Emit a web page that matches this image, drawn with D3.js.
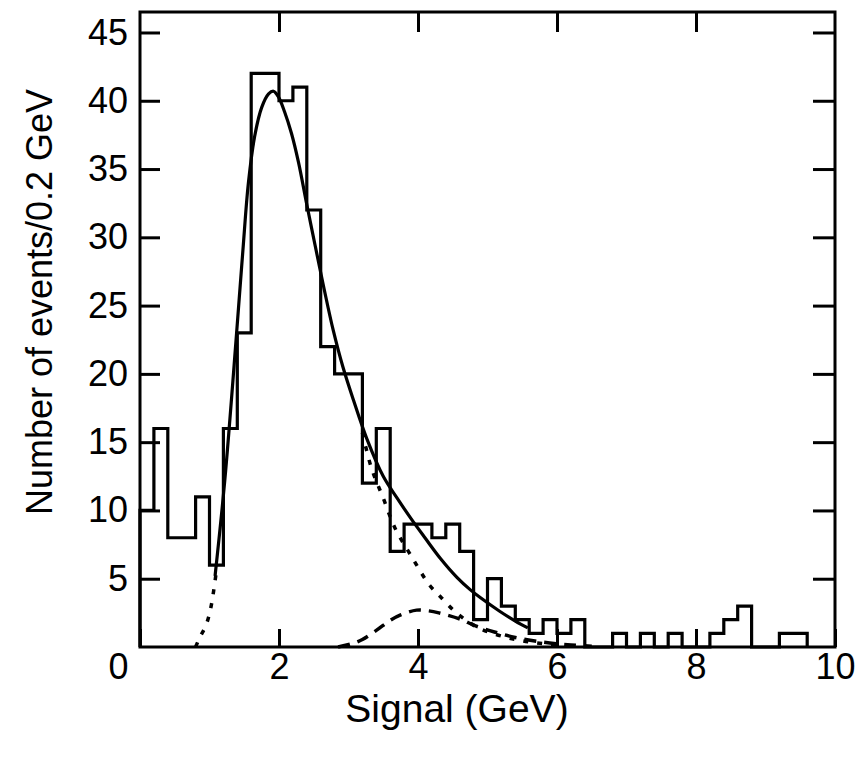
<!DOCTYPE html>
<html>
    <script src="https://d3js.org/d3.v7.min.js"></script>
    <head>
        <style>
            body { margin: 0; background: #fff; }
            text { font-family: "Liberation Sans", Arial, Helvetica, sans-serif; fill: #000; }
        </style>
    </head>
    <body>
        <svg id="hist"></svg>

        <script>
            // histogram: lower edge of each 0.2 GeV bin and its count
            const binLow = [0.0, 0.2, 0.4, 0.6, 0.8, 1.0, 1.2, 1.4, 1.6, 1.8,
                            2.0, 2.2, 2.4, 2.6, 2.8, 3.0, 3.2, 3.4, 3.6, 3.8,
                            4.0, 4.2, 4.4, 4.6, 4.8, 5.0, 5.2, 5.4, 5.6, 5.8,
                            6.0, 6.2, 6.4, 6.6, 6.8, 7.0, 7.2, 7.4, 7.6, 7.8,
                            8.0, 8.2, 8.4, 8.6, 8.8, 9.0, 9.2, 9.4];
            const counts = [10, 16, 8, 8, 11, 6, 16, 23, 42, 42,
                            40, 41, 32, 22, 20, 20, 12, 16, 7, 9,
                            9, 8, 9, 7, 2, 5, 3, 2, 1, 2,
                            1, 2, 0, 0, 1, 0, 1, 0, 1, 0,
                            0, 1, 2, 3, 0, 0, 1, 1];
            const binWidth = 0.2;

            // fit curves: [signal, events]
            const totalFit = [[1.08, 5.2], [1.22, 12.2], [1.39, 23], [1.48, 29], [1.56, 34], [1.65, 37.4],
                              [1.75, 39.5], [1.85, 40.5], [1.92, 40.7], [1.99, 40.3], [2.08, 39.2], [2.18, 37.6],
                              [2.28, 35.5], [2.4, 32.4], [2.52, 29.4], [2.65, 26.2], [2.78, 23.2], [2.92, 20.5],
                              [3.07, 18.1], [3.26, 15.3], [3.5, 12.5], [3.7, 10.9], [3.9, 9.4], [4.1, 8.0],
                              [4.32, 6.5], [4.56, 5.1], [4.75, 4.2], [4.9, 3.6], [5.18, 2.6], [5.4, 1.9], [5.58, 1.4]];
            const peakRise = [[0.8, 0], [0.86, 0.7], [0.95, 1.6], [1.02, 2.9], [1.1, 5.6]];
            const peakTail = [[3.2, 15.7], [3.33, 13.1], [3.5, 10.9], [3.67, 8.7], [3.91, 6.6], [4.17, 4.5],
                              [4.32, 3.7], [4.51, 2.7], [4.68, 2.0], [4.87, 1.4], [5.1, 0.95], [5.4, 0.55],
                              [5.7, 0.3], [6.0, 0.15], [6.3, 0.05]];
            const secondPeak = [[2.85, 0], [3.07, 0.27], [3.2, 0.55], [3.41, 1.25], [3.6, 1.95], [3.75, 2.35],
                                [3.98, 2.7], [4.15, 2.65], [4.3, 2.5], [4.63, 2.0], [4.8, 1.6], [5.1, 1.1],
                                [5.4, 0.7], [5.8, 0.35], [6.2, 0.15], [6.5, 0.05]];

            const xTicks = [0, 2, 4, 6, 8, 10];
            const yTicks = [5, 10, 15, 20, 25, 30, 35, 40, 45];

            const width = 860;
            const height = 763;
            const margin = { top: 12, right: 25, bottom: 116, left: 140 };

            const x_scale = d3.scaleLinear().domain([0, 10]).range([margin.left, width - margin.right]);
            const y_scale = d3.scaleLinear().domain([0, 46.5]).range([height - margin.bottom, margin.top]);

            const svg = d3.select("#hist")
                .attr("viewBox", [0, 0, width, height])
                .attr("width", width)
                .attr("height", height);

            // histogram outline
            const steps = [[0, 0]];
            binLow.forEach((lo, i) => steps.push([lo, counts[i]]));
            steps.push([binLow[binLow.length - 1] + binWidth, 0]);

            const stepLine = d3.line()
                .x((d) => x_scale(d[0]))
                .y((d) => y_scale(d[1]))
                .curve(d3.curveStepAfter);

            svg.append("path")
                .datum(steps)
                .attr("d", stepLine)
                .attr("fill", "none")
                .attr("stroke", "#000")
                .attr("stroke-width", 3.2);

            const curve = d3.line()
                .x((d) => x_scale(d[0]))
                .y((d) => y_scale(d[1]))
                .curve(d3.curveCatmullRom);

            svg.append("path")
                .datum(totalFit)
                .attr("d", curve)
                .attr("fill", "none")
                .attr("stroke", "#000")
                .attr("stroke-width", 3.2);

            [peakRise, peakTail].forEach((pts) => {
                svg.append("path")
                    .datum(pts)
                    .attr("d", curve)
                    .attr("fill", "none")
                    .attr("stroke", "#000")
                    .attr("stroke-width", 3.5)
                    .attr("stroke-dasharray", "5 9");
            });

            svg.append("path")
                .datum(secondPeak)
                .attr("d", curve)
                .attr("fill", "none")
                .attr("stroke", "#000")
                .attr("stroke-width", 3.5)
                .attr("stroke-dasharray", "12 8");

            // axes with inward ticks
            const bottom = svg.append("g")
                .attr("transform", `translate(0,${y_scale(0)})`)
                .call(d3.axisBottom(x_scale).tickValues(xTicks).tickSize(-18).tickPadding(6).tickFormat(d3.format("d")));
            bottom.selectAll(".tick text").filter((d) => d === 0).attr("dx", -22);

            svg.append("g")
                .attr("transform", `translate(0,${y_scale.range()[1]})`)
                .call(d3.axisTop(x_scale).tickValues(xTicks.slice(1, -1)).tickSize(-20).tickFormat(""));

            svg.append("g")
                .attr("transform", `translate(${x_scale(0)},0)`)
                .call(d3.axisLeft(y_scale).tickValues(yTicks).tickSize(-20).tickPadding(12));

            svg.append("g")
                .attr("transform", `translate(${x_scale(10)},0)`)
                .call(d3.axisRight(y_scale).tickValues(yTicks).tickSize(-22).tickFormat(""));

            svg.selectAll(".domain").remove();
            svg.selectAll(".tick line").attr("stroke", "#000").attr("stroke-width", 3);
            svg.selectAll(".tick text").attr("font-size", 36).attr("fill", "#000");

            svg.append("rect")
                .attr("x", x_scale(0))
                .attr("y", y_scale.range()[1])
                .attr("width", x_scale(10) - x_scale(0))
                .attr("height", y_scale(0) - y_scale.range()[1])
                .attr("fill", "none")
                .attr("stroke", "#000")
                .attr("stroke-width", 3);

            svg.append("text")
                .attr("x", 457)
                .attr("y", 722)
                .attr("text-anchor", "middle")
                .attr("font-size", 39)
                .text("Signal (GeV)");

            svg.append("text")
                .attr("transform", "translate(52,302) rotate(-90)")
                .attr("text-anchor", "middle")
                .attr("font-size", 36)
                .text("Number of events/0.2 GeV");
        </script>
    </body>
</html>
